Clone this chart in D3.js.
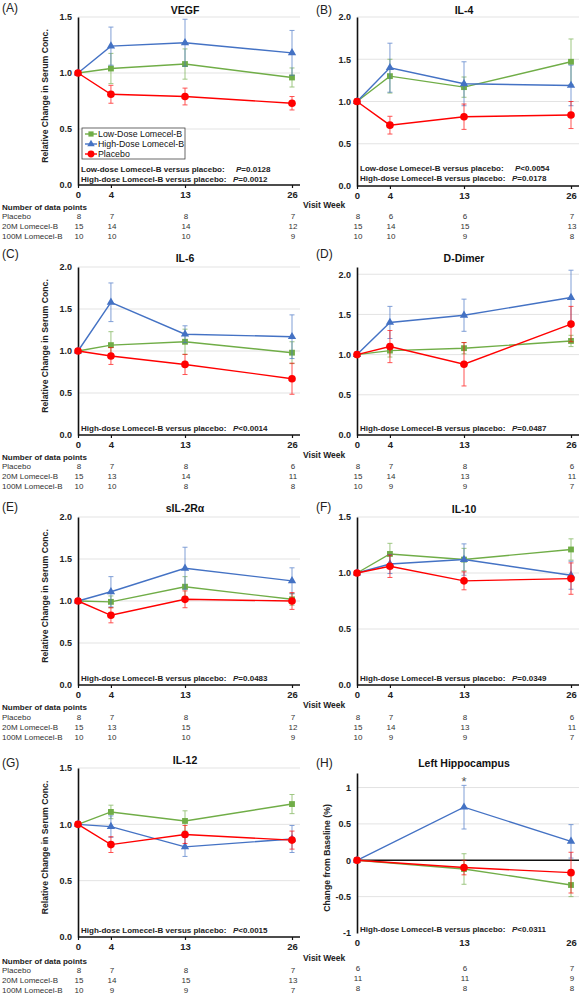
<!DOCTYPE html>
<html>
  <head>
    <title>Lomecel-B biomarkers</title>
    <meta charset="UTF-8" />
    <style>
      body { margin: 0; background: #fff; }
      text { font-family: "Liberation Sans", Arial, sans-serif; }
    </style>
  </head>
  <body>
    <script src="https://cdn.jsdelivr.net/npm/d3@7/dist/d3.min.js"></script>
    <script>
      var weeks = [0, 4, 13, 26];
      var hipWeeks = [0, 13, 26];
      var seriesNames = ["Low-Dose Lomecel-B", "High-Dose Lomecel-B", "Placebo"];
      var rowNames = ["Placebo", "20M Lomecel-B", "100M Lomecel-B"];

      // (A) VEGF
      var vegfLow = [1, 1.04, 1.08, 0.96];
      var vegfHigh = [1, 1.24, 1.27, 1.18];
      var vegfPlacebo = [1, 0.81, 0.79, 0.73];
      var vegfErr = [[0, 0.135, 0.135, 0.085], [0, 0.17, 0.21, 0.2], [0, 0.08, 0.075, 0.06]];
      var vegfN = [[8, 7, 8, 7], [15, 14, 14, 12], [10, 10, 10, 9]];
      var vegfP = [["Low-dose Lomecel-B versus placebo:", "=0.0128"], ["High-dose Lomecel-B versus placebo:", "=0.0012"]];

      // (B) IL-4
      var il4Low = [1, 1.30, 1.17, 1.47];
      var il4High = [1, 1.40, 1.21, 1.19];
      var il4Placebo = [1, 0.72, 0.82, 0.84];
      var il4Err = [[0, 0.2, 0.12, 0.27], [0, 0.29, 0.26, 0.24], [0, 0.105, 0.15, 0.16]];
      var il4N = [[8, 6, 6, 7], [15, 14, 15, 13], [10, 10, 9, 8]];
      var il4P = [["Low-dose Lomecel-B versus placebo:", "<0.0054"], ["High-dose Lomecel-B versus placebo:", "=0.0178"]];

      // (C) IL-6
      var il6Low = [1, 1.07, 1.11, 0.98];
      var il6High = [1, 1.58, 1.20, 1.17];
      var il6Placebo = [1, 0.94, 0.84, 0.67];
      var il6Err = [[0, 0.16, 0.15, 0.13], [0, 0.23, 0.10, 0.26], [0, 0.1, 0.12, 0.185]];
      var il6N = [[8, 7, 8, 6], [15, 13, 14, 11], [10, 10, 8, 8]];
      var il6P = [["High-dose Lomecel-B versus placebo:", "<0.0014"]];

      // (D) D-Dimer
      var ddLow = [1, 1.05, 1.08, 1.17];
      var ddHigh = [1, 1.40, 1.49, 1.71];
      var ddPlacebo = [1, 1.10, 0.88, 1.38];
      var ddErr = [[0, 0.08, 0.07, 0.07], [0, 0.2, 0.2, 0.34], [0, 0.2, 0.27, 0.22]];
      var ddN = [[8, 7, 8, 6], [15, 14, 13, 11], [10, 9, 9, 7]];
      var ddP = [["High-dose Lomecel-B versus placebo:", "=0.0487"]];

      // (E) sIL-2Ra
      var il2Low = [1, 0.99, 1.17, 1.02];
      var il2High = [1, 1.11, 1.39, 1.24];
      var il2Placebo = [1, 0.83, 1.02, 1.00];
      var il2Err = [[0, 0.07, 0.12, 0.07], [0, 0.18, 0.25, 0.155], [0, 0.09, 0.1, 0.1]];
      var il2N = [[8, 7, 8, 7], [15, 13, 15, 12], [10, 10, 10, 9]];
      var il2P = [["High-dose Lomecel-B versus placebo:", "=0.0483"]];

      // (F) IL-10
      var il10Low = [1, 1.17, 1.12, 1.21];
      var il10High = [1, 1.08, 1.12, 0.98];
      var il10Placebo = [1, 1.06, 0.93, 0.95];
      var il10Err = [[0, 0.095, 0.1, 0.095], [0, 0.085, 0.14, 0.125], [0, 0.1, 0.08, 0.14]];
      var il10N = [[8, 7, 8, 6], [15, 14, 13, 11], [10, 9, 9, 7]];
      var il10P = [["High-dose Lomecel-B versus placebo:", "=0.0349"]];

      // (G) IL-12
      var il12Low = [1, 1.11, 1.03, 1.18];
      var il12High = [1, 0.98, 0.80, 0.87];
      var il12Placebo = [1, 0.82, 0.91, 0.86];
      var il12Err = [[0, 0.06, 0.09, 0.085], [0, 0.095, 0.085, 0.12], [0, 0.07, 0.08, 0.08]];
      var il12N = [[8, 7, 8, 7], [15, 14, 15, 13], [10, 9, 9, 7]];
      var il12P = [["High-dose Lomecel-B versus placebo:", "<0.0015"]];

      // (H) Left hippocampus
      var hipLow = [0, -0.12, -0.34];
      var hipHigh = [0, 0.73, 0.26];
      var hipPlacebo = [0, -0.10, -0.17];
      var hipErr = [[0, 0.21, 0.16], [0, 0.3, 0.23], [0, 0.1, 0.28]];
      var hipN = [[6, 6, 7], [11, 11, 9], [8, 8, 8]];
      var hipP = [["High-dose Lomecel-B versus placebo:", "<0.0311"]];

      var colours = ["#70ad47", "#4472c4", "#ff0000"];
      var symbols = [d3.symbolSquare, d3.symbolTriangle, d3.symbolCircle];
      var symbolSizes = [34, 30, 46];
      var fmt1 = d3.format(".1f");
      var fmtPlain = function(d) { return String(d); };

      var panels = [
        { letter: "(A)", title: "VEGF", col: 0, top: 17, bottom: 185, domain: [0, 1.5], ticks: [0, 0.5, 1, 1.5],
          x: weeks, means: [vegfLow, vegfHigh, vegfPlacebo], err: vegfErr, n: vegfN, p: vegfP,
          letterY: 12, titleY: 14, pY: 182, headY: 210, rowY: 219, legend: true },
        { letter: "(B)", title: "IL-4", col: 1, top: 17, bottom: 186, domain: [0, 2], ticks: [0, 0.5, 1, 1.5, 2],
          x: weeks, means: [il4Low, il4High, il4Placebo], err: il4Err, n: il4N, p: il4P,
          letterY: 14, titleY: 14, pY: 181, headY: 208, rowY: 219 },
        { letter: "(C)", title: "IL-6", col: 0, top: 267, bottom: 435, domain: [0, 2], ticks: [0, 0.5, 1, 1.5, 2],
          x: weeks, means: [il6Low, il6High, il6Placebo], err: il6Err, n: il6N, p: il6P,
          letterY: 258, titleY: 262, pY: 431, headY: 460, rowY: 469 },
        { letter: "(D)", title: "D-Dimer", col: 1, top: 267, bottom: 435, domain: [0, 2.09], ticks: [0, 0.5, 1, 1.5, 2],
          x: weeks, means: [ddLow, ddHigh, ddPlacebo], err: ddErr, n: ddN, p: ddP,
          letterY: 258, titleY: 262, pY: 431, headY: 458, rowY: 469 },
        { letter: "(E)", title: "sIL-2R\u03b1", col: 0, top: 517, bottom: 685, domain: [0, 2], ticks: [0, 0.5, 1, 1.5, 2],
          x: weeks, means: [il2Low, il2High, il2Placebo], err: il2Err, n: il2N, p: il2P,
          letterY: 511, titleY: 512, pY: 681, headY: 710, rowY: 720 },
        { letter: "(F)", title: "IL-10", col: 1, top: 517, bottom: 685, domain: [0, 1.5], ticks: [0, 0.5, 1, 1.5],
          x: weeks, means: [il10Low, il10High, il10Placebo], err: il10Err, n: il10N, p: il10P,
          letterY: 511, titleY: 513, pY: 681, headY: 708, rowY: 720 },
        { letter: "(G)", title: "IL-12", col: 0, top: 768, bottom: 937, domain: [0, 1.5], ticks: [0, 0.5, 1, 1.5],
          x: weeks, means: [il12Low, il12High, il12Placebo], err: il12Err, n: il12N, p: il12P,
          letterY: 767, titleY: 764, pY: 933, headY: 964, rowY: 973 },
        { letter: "(H)", title: "Left Hippocampus", col: 1, top: 773, bottom: 933, domain: [-1, 1.2], ticks: [-1, -0.5, 0, 0.5, 1],
          x: hipWeeks, means: [hipLow, hipHigh, hipPlacebo], err: hipErr, n: hipN, p: hipP,
          letterY: 767, titleY: 767, pY: 932, headY: 961, rowY: 971, zeroLine: true, star: 13 }
      ];

      var svg = d3.select("body").append("svg")
        .attr("width", 583)
        .attr("height", 999);

      function drawPanel(p) {
        var ax = p.col ? 357 : 78;
        var x = d3.scaleLinear().domain([0, 26]).range([ax, ax + 214]);
        var y = d3.scaleLinear().domain(p.domain).range([p.bottom, p.top]);
        var g = svg.append("g");
        var fmt = p.zeroLine ? fmtPlain : fmt1;

        // gridlines
        g.selectAll("line.grid")
          .data(p.ticks.filter(function(t) { return t !== p.domain[0] && !(p.zeroLine && t === 0); }))
          .enter().append("line")
          .attr("x1", ax).attr("x2", ax + 222)
          .attr("y1", function(d) { return y(d); })
          .attr("y2", function(d) { return y(d); })
          .attr("stroke", "#e3e3e3").attr("stroke-width", 1);

        // y axis
        var yAxis = d3.axisLeft(y).tickValues(p.ticks).tickSize(0).tickSizeOuter(0).tickPadding(6).tickFormat(fmt);
        var ya = g.append("g").attr("transform", "translate(" + ax + ",0)").call(yAxis);
        ya.select(".domain").attr("stroke", "#111").attr("stroke-width", 1.6);
        ya.selectAll("text").attr("font-size", 9).attr("font-weight", "bold").attr("fill", "#222")
          .attr("font-family", "Liberation Sans, Arial, sans-serif");

        // x axis
        var base = p.zeroLine ? y(0) : p.bottom;
        g.append("line").attr("x1", ax).attr("x2", ax + 222).attr("y1", base).attr("y2", base)
          .attr("stroke", "#111").attr("stroke-width", 1.6);
        var xAxis = d3.axisBottom(x).tickValues(p.x).tickSizeInner(p.zeroLine ? 0 : 3).tickSizeOuter(0)
          .tickPadding(p.zeroLine ? 6 : 3).tickFormat(fmtPlain);
        var xa = g.append("g").attr("transform", "translate(0," + p.bottom + ")").call(xAxis);
        xa.select(".domain").remove();
        xa.selectAll("line").attr("stroke", "#111").attr("stroke-width", 1.2);
        xa.selectAll("text").attr("font-size", 9.5).attr("font-weight", "bold").attr("fill", "#222")
          .attr("font-family", "Liberation Sans, Arial, sans-serif");

        // series
        for (var i = 0; i < 3; i++) {
          var pts = p.x.map(function(w, j) { return { w: w, m: p.means[i][j], e: p.err[i][j] }; });
          var eb = g.append("g").attr("stroke", colours[i]).attr("stroke-width", 0.9).attr("opacity", 0.75);
          var withErr = pts.filter(function(d) { return d.e > 0; });
          eb.selectAll("line.v").data(withErr).enter().append("line")
            .attr("x1", function(d) { return x(d.w); }).attr("x2", function(d) { return x(d.w); })
            .attr("y1", function(d) { return y(d.m - d.e); }).attr("y2", function(d) { return y(d.m + d.e); });
          eb.selectAll("line.top").data(withErr).enter().append("line")
            .attr("x1", function(d) { return x(d.w) - 2.5; }).attr("x2", function(d) { return x(d.w) + 2.5; })
            .attr("y1", function(d) { return y(d.m + d.e); }).attr("y2", function(d) { return y(d.m + d.e); });
          eb.selectAll("line.bot").data(withErr).enter().append("line")
            .attr("x1", function(d) { return x(d.w) - 2.5; }).attr("x2", function(d) { return x(d.w) + 2.5; })
            .attr("y1", function(d) { return y(d.m - d.e); }).attr("y2", function(d) { return y(d.m - d.e); });

          g.append("path").datum(pts)
            .attr("fill", "none").attr("stroke", colours[i]).attr("stroke-width", 1.4)
            .attr("d", d3.line().x(function(d) { return x(d.w); }).y(function(d) { return y(d.m); }));

          g.selectAll(null).data(pts).enter().append("path")
            .attr("transform", function(d) { return "translate(" + x(d.w) + "," + y(d.m) + ")"; })
            .attr("d", d3.symbol().type(symbols[i]).size(symbolSizes[i]))
            .attr("fill", colours[i]);
        }

        if (p.star !== undefined) {
          g.append("text").attr("x", x(p.star)).attr("y", y(1.2) + 13).attr("text-anchor", "middle")
            .attr("font-size", 13).attr("fill", "#555").text("*");
        }

        // panel letter and title
        g.append("text").attr("x", p.col ? 316 : 2).attr("y", p.letterY)
          .attr("font-size", 12).attr("fill", "#222").text(p.letter);
        g.append("text").attr("x", ax + 107).attr("y", p.titleY).attr("text-anchor", "middle")
          .attr("font-size", 10.5).attr("font-weight", "bold").attr("fill", "#111").text(p.title);

        // y label
        var yl = p.zeroLine ? "Change from Baseline (%)" : "Relative Change in Serum Conc.";
        if (!p.col || p.zeroLine) {
          g.append("text")
            .attr("transform", "translate(" + (p.col ? 330 : 48) + "," + ((p.top + p.bottom) / 2 + (p.zeroLine ? 5 : -5)) + ") rotate(-90)")
            .attr("text-anchor", "middle").attr("font-size", 8.7).attr("font-weight", "bold").attr("fill", "#222")
            .text(yl);
        }

        // p-value lines, P values lined up in one column
        var firstY = p.pY - (p.p.length - 1) * 10;
        p.p.forEach(function(line, k) {
          var ty = firstY + k * 10;
          g.append("text").attr("x", ax + 3).attr("y", ty)
            .attr("font-size", 8).attr("font-weight", "bold").attr("fill", "#222").text(line[0]);
          var t = g.append("text").attr("x", ax + 155 + (k === 0 && p.p.length > 1 ? 3 : 0)).attr("y", ty)
            .attr("font-size", 8).attr("font-weight", "bold").attr("fill", "#222");
          t.append("tspan").attr("font-style", "italic").text("P");
          t.append("tspan").text(line[1]);
        });

        // legend
        if (p.legend) {
          var lg = g.append("g").attr("transform", "translate(82,128)");
          lg.append("rect").attr("width", 103).attr("height", 31).attr("fill", "#fff")
            .attr("stroke", "#444").attr("stroke-width", 0.8);
          seriesNames.forEach(function(name, k) {
            var ly = 6 + k * 10;
            lg.append("line").attr("x1", 3).attr("x2", 15).attr("y1", ly).attr("y2", ly)
              .attr("stroke", colours[k]).attr("stroke-width", 1.4);
            lg.append("path").attr("transform", "translate(9," + ly + ")")
              .attr("d", d3.symbol().type(symbols[k]).size(symbolSizes[k] * 0.8)).attr("fill", colours[k]);
            lg.append("text").attr("x", 16).attr("y", ly + 3).attr("font-size", 8.8).attr("fill", "#111").text(name);
          });
        }

        // data point counts
        if (p.col) {
          g.append("text").attr("x", 303).attr("y", p.headY).attr("font-size", 8.5).attr("font-weight", "bold")
            .attr("fill", "#222").text("Visit Week");
        } else {
          g.append("text").attr("x", 2).attr("y", p.headY).attr("font-size", 8).attr("font-weight", "bold")
            .attr("fill", "#222").text("Number of data points");
        }
        p.n.forEach(function(row, r) {
          var ry = p.rowY + r * 10;
          if (!p.col) {
            g.append("text").attr("x", 2).attr("y", ry).attr("font-size", 8).attr("fill", "#333").text(rowNames[r]);
          }
          g.selectAll(null).data(row).enter().append("text")
            .attr("x", function(d, j) { return x(p.x[j]) + 1; }).attr("y", ry)
            .attr("text-anchor", "middle").attr("font-size", 8).attr("fill", "#333")
            .text(function(d) { return d; });
        });
      }

      panels.forEach(drawPanel);
    </script>
  </body>
</html>
